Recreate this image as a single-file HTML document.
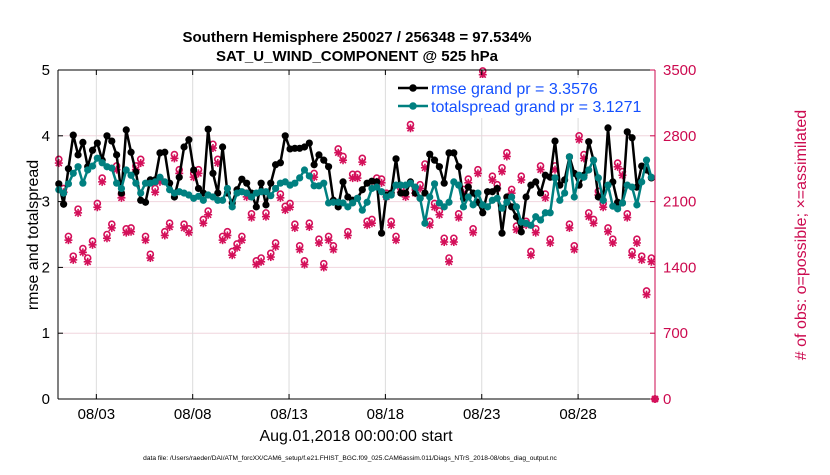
<!DOCTYPE html>
<html><head><meta charset="utf-8">
<style>
body{margin:0;background:#fff;}
svg text{font-family:"Liberation Sans",Arial,sans-serif;}
</style></head>
<body>
<svg id="chart" width="830" height="470" viewBox="0 0 830 470" xmlns="http://www.w3.org/2000/svg">
<rect width="830" height="470" fill="#fff"/>
<text x="357" y="42" font-size="15" font-weight="bold" text-anchor="middle">Southern Hemisphere 250027 / 256348 = 97.534%</text>
<text x="357" y="61" font-size="15" font-weight="bold" text-anchor="middle">SAT_U_WIND_COMPONENT @ 525 hPa</text>
<g id="grid"></g>
<g id="marks"></g>
<g id="axes"></g>
<text transform="translate(38,235) rotate(-90)" font-size="16" text-anchor="middle">rmse and totalspread</text>
<text transform="translate(806,235) rotate(-90)" font-size="16" text-anchor="middle" fill="#cc0a4f"># of obs: o=possible; ×=assimilated</text>
<text x="356" y="441" font-size="16" text-anchor="middle">Aug.01,2018 00:00:00 start</text>
<text x="350" y="460" font-size="6.6" text-anchor="middle">data file: /Users/raeder/DAI/ATM_forcXX/CAM6_setup/f.e21.FHIST_BGC.f09_025.CAM6assim.011/Diags_NTrS_2018-08/obs_diag_output.nc</text>
<g id="legend">
<rect x="390" y="78" width="212" height="40" fill="#fff"/>
<line x1="398" y1="88" x2="428" y2="88" stroke="#000" stroke-width="2.5"/>
<circle cx="413" cy="88" r="3.8" fill="#000"/>
<text x="431" y="94" font-size="16" fill="#1450ff">rmse grand pr = 3.3576</text>
<line x1="398" y1="106" x2="428" y2="106" stroke="#008080" stroke-width="2.5"/>
<circle cx="413" cy="106" r="3.8" fill="#008080"/>
<text x="431" y="112" font-size="16" fill="#1450ff">totalspread grand pr = 3.1271</text>
</g>
</svg>
<script>
const rmse=[3.27,2.96,3.5,4.01,3.71,3.9,3.53,3.78,3.89,3.63,4.0,3.92,3.71,3.13,4.09,3.75,3.45,3.02,2.99,3.33,3.33,3.74,3.75,3.28,3.07,3.37,3.83,3.94,3.48,3.2,3.13,4.1,3.43,3.13,3.83,3.13,2.98,3.18,3.34,3.28,3.13,2.92,
3.28,2.95,3.28,3.56,3.59,4.0,3.8,3.81,3.81,3.83,3.89,3.56,3.71,3.63,3.53,3.02,2.92,3.30,3.07,3.02,3.05,3.18,3.28,3.31,3.30,2.52,3.10,3.13,3.65,3.13,3.13,3.30,3.13,3.05,3.13,3.72,3.63,3.53,3.28,3.74,
3.74,3.53,3.05,3.22,3.13,2.99,2.83,3.15,3.15,3.20,2.52,3.07,2.92,2.77,2.54,3.07,3.25,3.30,3.13,3.40,3.37,3.92,3.25,3.33,3.68,3.43,3.25,3.40,3.91,3.63,3.07,3.02,4.12,3.30,2.99,2.98,4.06,3.97,3.22,3.54,3.48,3.36];
const spread=[3.18,3.13,3.27,3.43,3.53,3.28,3.48,3.54,3.66,3.59,3.53,3.51,3.28,3.2,3.48,3.40,3.28,3.13,3.28,3.28,3.30,3.37,3.30,3.18,3.13,3.15,3.13,3.10,3.05,3.08,3.02,3.10,3.07,3.02,3.02,3.20,2.92,3.13,3.15,3.13,3.07,3.13,
3.15,3.15,3.09,3.20,3.28,3.30,3.25,3.28,3.36,3.48,3.39,3.24,3.24,3.28,2.98,2.99,2.99,2.98,2.92,2.98,3.05,2.87,2.99,3.20,3.22,3.15,3.07,3.10,3.25,3.25,3.25,3.28,3.22,3.05,2.67,3.07,3.27,2.98,2.92,2.99,
3.30,3.25,2.92,3.07,2.95,3.13,2.95,2.92,3.02,3.05,2.90,2.99,3.07,2.92,2.69,2.67,2.64,2.77,2.72,2.83,2.83,3.36,3.02,3.13,3.68,3.07,3.40,3.37,3.48,3.63,3.36,3.02,3.25,2.93,2.89,2.98,3.25,3.22,2.95,3.30,3.63,3.37];
const obsAssim=[2510,2200,1690,1480,1980,1560,1460,1640,2040,2310,1710,1820,2440,2140,1770,1780,2440,2510,1690,1500,2200,2310,1740,1830,2560,2400,1820,1770,2360,2400,1870,1960,2670,2510,1690,1740,1530,1610,1690,2150,1930,1430,
1460,1940,1510,1620,2140,2010,2040,1820,1590,1430,1830,2360,1660,1400,1690,1590,2620,2540,1740,2350,2350,2520,1850,1870,2310,2300,2150,1850,1690,2200,2150,2880,2190,2240,2460,1850,2040,1960,1670,1460,
1670,1930,2190,2300,1770,2400,3450,3100,2330,2240,2420,2580,2190,1800,2330,1850,1530,1770,2440,2140,1660,2440,3200,3050,1820,1590,2760,2560,1940,1870,2170,2040,1780,1660,2470,2380,1930,1530,1660,1480,1110,1460,0];
const obsPoss=[2550,2240,1730,1520,2020,1600,1500,1680,2080,2350,1750,1860,2480,2180,1810,1820,2480,2550,1730,1540,2240,2350,1780,1870,2600,2440,1860,1810,2400,2440,1910,2000,2710,2550,1730,1780,1570,1650,1730,2190,1970,1470,
1500,1980,1550,1660,2180,2050,2080,1860,1630,1470,1870,2400,1700,1440,1730,1630,2660,2580,1780,2390,2390,2560,1890,1910,2350,2340,2190,1890,1730,2240,2190,2920,2230,2280,2500,1890,2080,2000,1710,1500,
1710,1970,2230,2340,1810,2440,3490,3140,2370,2280,2460,2620,2230,1840,2370,1890,1570,1810,2480,2180,1700,2480,3240,3090,1860,1630,2800,2600,1980,1910,2210,2080,1820,1700,2510,2420,1970,1570,1700,1520,1150,1500,0];
const xTickDays=[2,7,12,17,22,27];
const xTickLabels=["08/03","08/08","08/13","08/18","08/23","08/28"];
const yLeftTicks=[0,1,2,3,4,5];
const yRightTicks=[0,700,1400,2100,2800,3500];

const NS="http://www.w3.org/2000/svg";
const L=58,R=655,T=70,B=399;
const dayPx=19.27;
function xDay(d){return 57.8+d*dayPx;}
function xIdx(i){return xDay(i/4)+1;}
function yL(v){return B-(v/5)*(B-T);}
function yR(v){return B-(v/3500)*(B-T);}
function mk(tag,at,parent){const e=document.createElementNS(NS,tag);for(const k in at)e.setAttribute(k,at[k]);parent.appendChild(e);return e;}
const grid=document.getElementById('grid'),marks=document.getElementById('marks'),axes=document.getElementById('axes');

yRightTicks.forEach(v=>{if(v>0&&v<3500){const g=mk('line',{x1:L,x2:R,y1:yR(v),y2:yR(v),stroke:'#f0d6de','stroke-width':1},grid);

}});
xTickDays.forEach(d=>{const g=mk('line',{x1:xDay(d),x2:xDay(d),y1:T,y2:B,stroke:'#dcdcdc','stroke-width':1},grid);

});

obsAssim.forEach((v,i)=>{const x=Math.min(xIdx(i),R),y=yR(v);const g=mk('g',{stroke:'#d4105a','stroke-width':1.6},marks);


const s=4;mk('line',{x1:x-s,x2:x+s,y1:y,y2:y},g);mk('line',{x1:x,x2:x,y1:y-s,y2:y+s},g);
mk('line',{x1:x-3,x2:x+3,y1:y-3,y2:y+3},g);mk('line',{x1:x-3,x2:x+3,y1:y+3,y2:y-3},g);});
obsPoss.forEach((v,i)=>{const c=mk('circle',{cx:Math.min(xIdx(i),R),cy:yR(v),r:3,fill:'none',stroke:'#d4105a','stroke-width':1.6},marks);

});

function series(arr,color,name){
  const pts=arr.map((v,i)=>xIdx(i).toFixed(1)+','+yL(v).toFixed(1)).join(' ');
  const p=mk('polyline',{points:pts,fill:'none',stroke:color,'stroke-width':2.5,'stroke-linejoin':'round'},marks);
  
  
  arr.forEach((v,i)=>{const c=mk('circle',{cx:xIdx(i),cy:yL(v),r:3.6,fill:color},marks);
  
  });
}
series(rmse,'#000','rmse');
series(spread,'#008080','totalspread');

const a1=mk('line',{x1:L,x2:L,y1:T,y2:B,stroke:'#000','stroke-width':1},axes);


const a2=mk('line',{x1:L,x2:R,y1:B,y2:B,stroke:'#000','stroke-width':1},axes);


const a3=mk('line',{x1:L,x2:R,y1:T,y2:T,stroke:'#000','stroke-width':1},axes);


const a4=mk('line',{x1:R,x2:R,y1:T,y2:B,stroke:'#cc0a4f','stroke-width':1},axes);



yLeftTicks.forEach(v=>{const y=yL(v);mk('line',{x1:L,x2:L+5,y1:y,y2:y,stroke:'#000'},axes);
const t=mk('text',{x:L-8,y:y+5,'font-size':15,'text-anchor':'end'},axes);t.textContent=v;

});
yRightTicks.forEach(v=>{const y=yR(v);mk('line',{x1:R-5,x2:R,y1:y,y2:y,stroke:'#cc0a4f'},axes);
const t=mk('text',{x:R+8,y:y+5,'font-size':15,fill:'#cc0a4f'},axes);t.textContent=v;

});
xTickDays.forEach((d,k)=>{const x=xDay(d);mk('line',{x1:x,x2:x,y1:B,y2:B-5,stroke:'#000'},axes);
mk('line',{x1:x,x2:x,y1:T,y2:T+5,stroke:'#000'},axes);
const t=mk('text',{x:x,y:419,'font-size':15,'text-anchor':'middle'},axes);t.textContent=xTickLabels[k];

});
</script>
</body></html>
